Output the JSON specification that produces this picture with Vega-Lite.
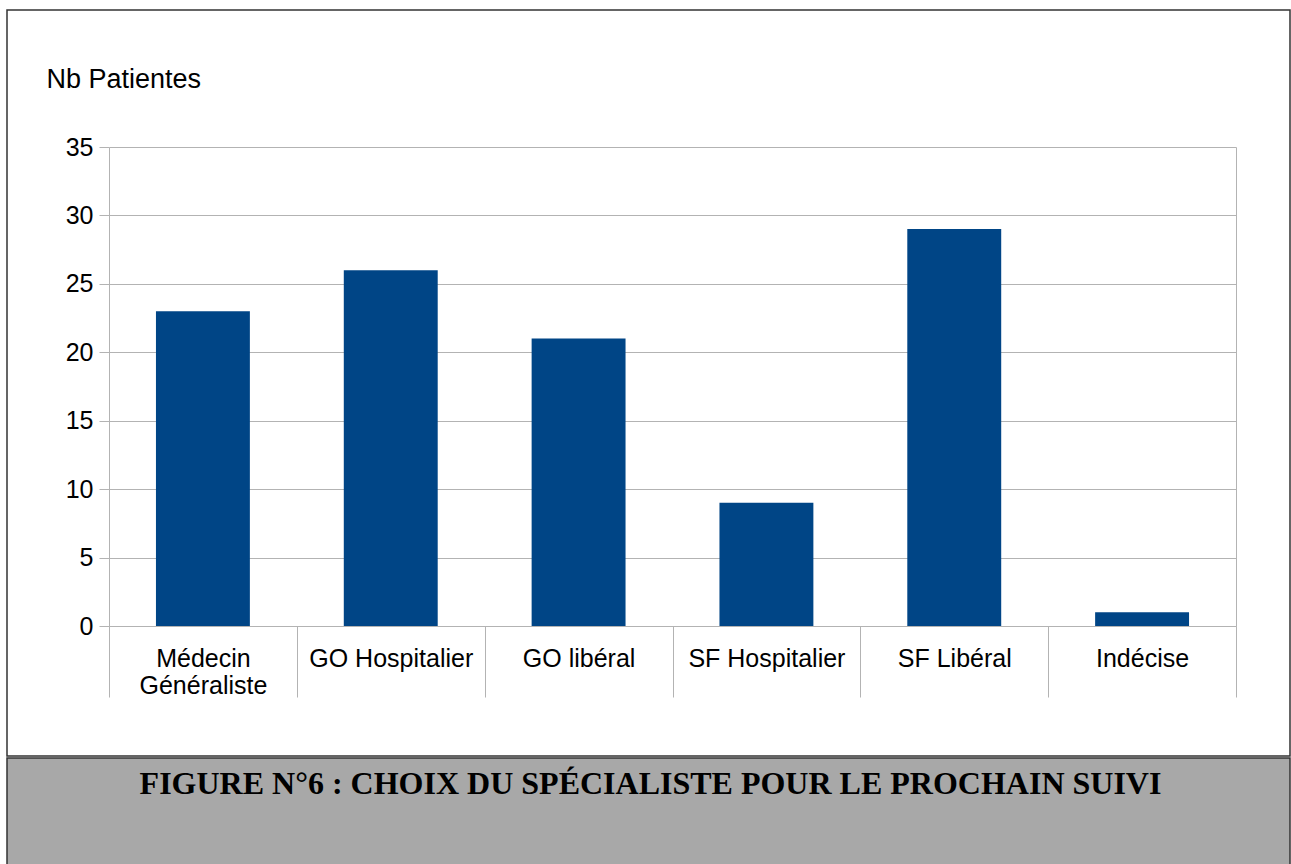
{
  "$schema": "https://vega.github.io/schema/vega-lite/v6.json",
  "padding": {"left": 6, "top": 9, "right": 0, "bottom": 0},
  "background": "white",
  "spacing": 0,
  "config": {
    "font": "Liberation Sans",
    "concat": {"spacing": 0},
    "axis": {"labelFont": "Liberation Sans", "titleFont": "Liberation Sans", "labelColor": "black", "titleColor": "black"}
  },
  "vconcat": [
    {
      "width": 1283,
      "height": 746,
      "view": {"stroke": "#333333", "strokeWidth": 1.5, "fill": "white"},
      "data": {
        "values": [
          {"specialiste": "Médecin Généraliste", "n": 23},
          {"specialiste": "GO Hospitalier", "n": 26},
          {"specialiste": "GO libéral", "n": 21},
          {"specialiste": "SF Hospitalier", "n": 9},
          {"specialiste": "SF Libéral", "n": 29},
          {"specialiste": "Indécise", "n": 1}
        ]
      },
      "layer": [
        {
          "mark": {"type": "bar", "color": "#004586", "width": {"band": 0.5}},
          "encoding": {
            "x": {
              "field": "specialiste", "type": "nominal", "sort": null,
              "scale": {"range": [102, 1229], "paddingInner": 0, "paddingOuter": 0},
              "axis": {
                "title": null, "orient": "bottom", "offset": -130, "labelAngle": 0,
                "tickBand": "extent", "tickSize": 71, "tickColor": "#b3b3b3", "domainColor": "#b3b3b3",
                "labelPadding": -51, "labelFontSize": 25, "labelLineHeight": 27, "labelBaseline": "top",
                "grid": false,
                "labelExpr": "datum.label == 'Médecin Généraliste' ? ['Médecin', 'Généraliste'] : datum.label"
              }
            },
            "y": {
              "field": "n", "type": "quantitative",
              "scale": {"domain": [0, 35], "range": [616, 137], "nice": false},
              "axis": {
                "title": "Nb Patientes", "orient": "left", "offset": -102,
                "values": [0, 5, 10, 15, 20, 25, 30, 35],
                "tickSize": 10, "tickColor": "#b3b3b3", "domainColor": "#b3b3b3",
                "gridColor": "#b3b3b3", "grid": true,
                "labelPadding": 6, "labelFontSize": 25,
                "titleAngle": 0, "titleX": -63, "titleY": 77, "titleAlign": "left",
                "titleBaseline": "alphabetic", "titleFontSize": 27, "titleFontWeight": "normal"
              }
            }
          }
        },
        {
          "mark": {"type": "bar", "opacity": 0, "width": {"band": 0.5}},
          "encoding": {
            "x": {"field": "specialiste", "type": "nominal", "sort": null},
            "y": {
              "field": "n", "type": "quantitative",
              "axis": {"orient": "right", "offset": -54, "labels": false, "ticks": false, "grid": false, "title": null, "domainColor": "#b3b3b3"}
            }
          }
        }
      ],
      "resolve": {"axis": {"y": "independent"}}
    },
    {
      "width": 1283,
      "height": 109,
      "view": {"fill": "#a8a8a8", "stroke": "#333333", "strokeWidth": 1.5},
      "data": {"values": [{"t": "FIGURE N°6 : CHOIX DU SPÉCIALISTE POUR LE PROCHAIN SUIVI"}]},
      "mark": {"type": "text", "font": "Liberation Serif", "fontWeight": "bold", "fontSize": 32, "baseline": "alphabetic", "dy": -18.5, "dx": 2, "color": "black"},
      "encoding": {"text": {"field": "t"}}
    }
  ]
}
